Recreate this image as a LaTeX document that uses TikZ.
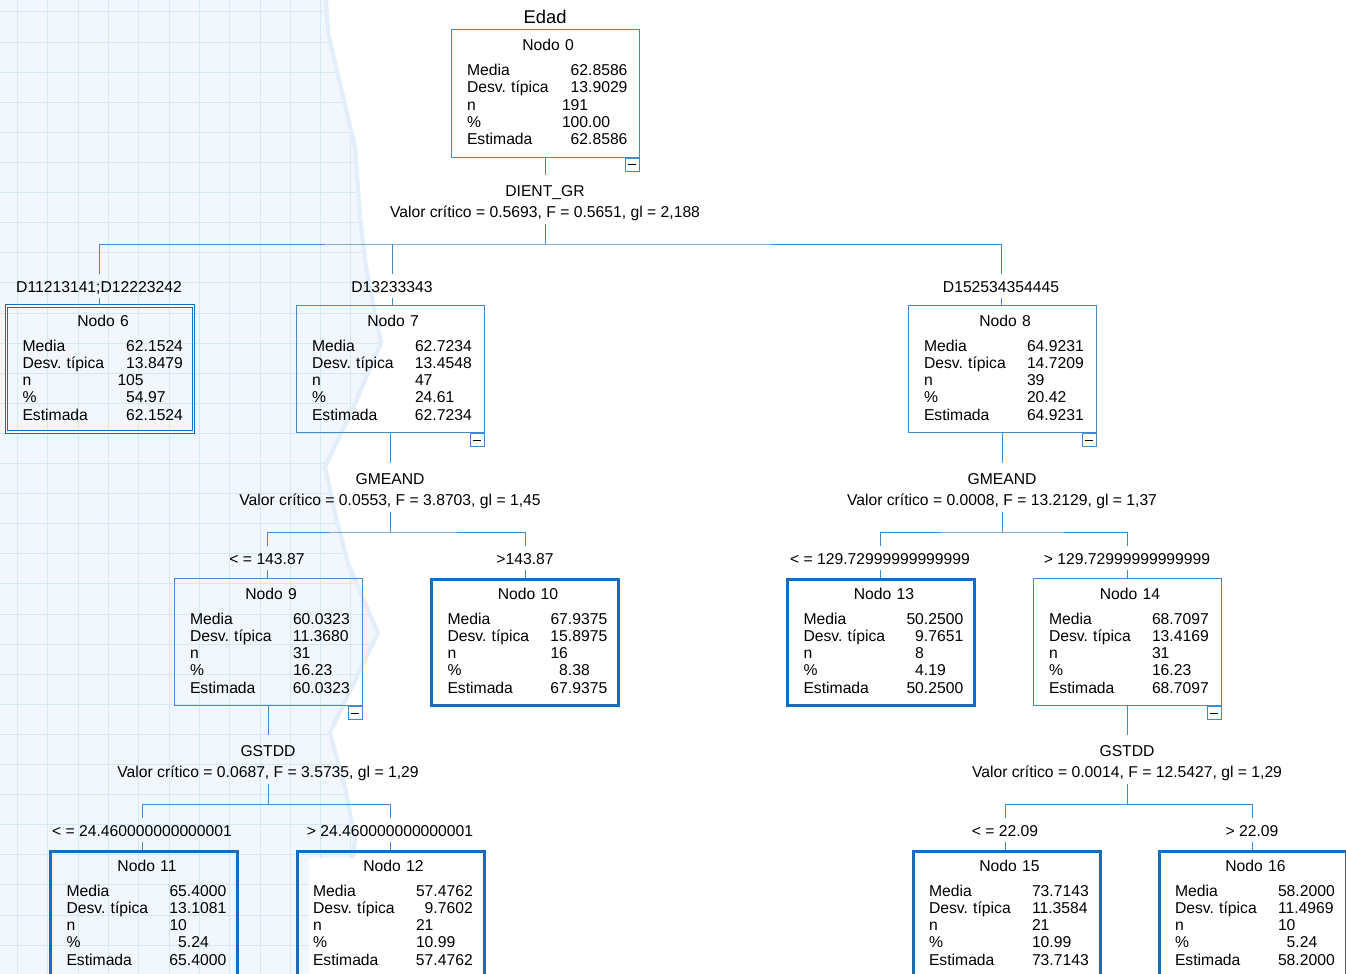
\documentclass[tikz,border=0pt]{standalone}
\usepackage{fontspec}
\setmainfont{Liberation Sans}
\usepackage{tikz}
\usetikzlibrary{calc}
\definecolor{treeblue}{RGB}{66,138,204}
\definecolor{termblue}{RGB}{22,108,190}
\definecolor{gridfill}{RGB}{241,247,252}
\definecolor{gridline}{RGB}{214,231,246}
\definecolor{gridedge}{RGB}{226,238,249}
\setlength{\parindent}{0pt}
\frenchspacing
\newcommand{\z}{\hphantom{0}}
% contents of a tree node: title, label column, five statistics
\newcommand{\stats}[7]{%
  \centerline{\hspace{6pt}#1}\par\vspace{7.7pt}%
  \makebox[#2][l]{Media}#3\par
  \makebox[#2][l]{Desv.\ típica}#4\par
  \makebox[#2][l]{n}#5\par
  \makebox[#2][l]{\%}#6\par
  \makebox[#2][l]{Estimada}#7\rule[-3pt]{0pt}{0pt}}

\begin{document}
\begin{tikzpicture}[x=1pt,y=-1pt,font=\fontsize{15.7pt}{17.25pt}\selectfont,
  box/.style={draw=treeblue,line width=1pt,minimum width=188pt,minimum height=127pt,
    inner xsep=16pt,inner ysep=0pt,text width=156pt,align=left},
  term/.style={box,draw=termblue,line width=3pt,minimum width=187pt,minimum height=126pt,text width=155pt},
  collapse/.style={draw=treeblue,line width=1pt,minimum width=14pt,minimum height=13pt,inner sep=0pt,
    anchor=north east,path picture={\draw[black,line width=1pt]
      ([xshift=3pt]path picture bounding box.west) -- ([xshift=-3pt]path picture bounding box.east);}},
  split/.style={inner sep=3pt,anchor=base,text height=18.5pt},
  stat/.style={inner sep=3pt,anchor=base},
  branch/.style={inner sep=3pt,anchor=base,text height=15pt,text depth=2pt},
  conn/.style={draw=treeblue,line width=1pt}]
  \useasboundingbox (0,0) rectangle (1346,974);

  % Grid paper watermark on the left
  \begin{scope}
    \clip (0,0) -- (328,0) -- (330,33) -- (357,147) -- (362,217) -- (368,267) -- (383,343)
      -- (353,413) -- (327,467) -- (337,513) -- (350,563) -- (380,633) -- (332,733)
      -- (347,787) -- (357,840) -- (350,900) -- (340,974) -- (0,974) -- cycle;
    \fill[gridfill] (0,0) rectangle (400,974);
    \foreach \gx in {0,...,13} \draw[gridline] ({17.3+30.3*\gx},0) -- ++(0,974);
    \foreach \gy in {0,...,32} \draw[gridline] (0,{11.7+30.1*\gy}) -- ++(400,0);
    \draw[gridedge,line width=8pt] (328,0) -- (330,33) -- (357,147) -- (362,217) -- (368,267) -- (383,343)
      -- (353,413) -- (327,467) -- (337,513) -- (350,563) -- (380,633) -- (332,733)
      -- (347,787) -- (357,840) -- (350,900) -- (340,974);
  \end{scope}
  \fill[white] (309,858) rectangle (481,974);

  % Root
  \node[anchor=base,font=\fontsize{18.4pt}{20pt}\selectfont] (edad) at (545,23.5) {Edad};
  \node[box] (n0) at (545,93.5) {\stats{Nodo 0}{95pt}{\z62.8586}{\z13.9029}{191}{100.00}{\z62.8586}};
  \node[collapse] (m0) at (n0.south east) {};
  \node[split] (v0) at (545,196.6) {DIENT\_GR};
  \node[stat] (c0) at (545,217.6) {Valor crítico = 0.5693, F = 0.5651, gl = 2,188};
  \coordinate (b0) at (545,244);
  \draw[conn] (n0) -- (v0);
  \draw[conn] (c0) -- (b0);

  % First split
  \node[branch] (k6) at (99,292.6) {D11213141;D12223242};
  \node[branch] (k7) at (392,292.6) {D13233343};
  \node[branch] (k8) at (1001,292.6) {D152534354445};
  \draw[conn] (k6.north) |- (b0) -| (k8.north);
  \draw[conn] (k7.north) -- (k7.north |- b0);

  \node[term,double=white,double distance=1.2pt,line width=1.3pt] (n6) at (100,369)
    {\stats{Nodo 6}{95pt}{\z62.1524}{\z13.8479}{105}{\z54.97}{\z62.1524}};
  \node[box] (n7) at (390,369) {\stats{Nodo 7}{103pt}{62.7234}{13.4548}{47}{24.61}{62.7234}};
  \node[collapse] (m7) at (n7.south east) {};
  \node[box] (n8) at (1002,369) {\stats{Nodo 8}{103pt}{64.9231}{14.7209}{39}{20.42}{64.9231}};
  \node[collapse] (m8) at (n8.south east) {};
  \draw[conn] (k6.south) -- (k6.south |- n6.north);
  \draw[conn] (k7.south) -- (k7.south |- n7.north);
  \draw[conn] (k8.south) -- (k8.south |- n8.north);

  % Split of Nodo 7
  \node[split] (v7) at (390,484.6) {GMEAND};
  \node[stat] (c7) at (390,505.6) {Valor crítico = 0.0553, F = 3.8703, gl = 1,45};
  \coordinate (b7) at (390,532);
  \draw[conn] (n7) -- (v7);
  \draw[conn] (c7) -- (b7);
  \node[branch] (k9) at (267,564.6) {< = 143.87};
  \node[branch] (k10) at (525,564.6) {>143.87};
  \draw[conn] (k9.north) |- (b7) -| (k10.north);
  \node[box] (n9) at (268,642) {\stats{Nodo 9}{103pt}{60.0323}{11.3680}{31}{16.23}{60.0323}};
  \node[collapse] (m9) at (n9.south east) {};
  \node[term] (n10) at (525,642) {\stats{Nodo 10}{103pt}{67.9375}{15.8975}{16}{\z8.38}{67.9375}};
  \draw[conn] (k9.south) -- (k9.south |- n9.north);
  \draw[conn] (k10.south) -- (k10.south |- n10.north);

  % Split of Nodo 8
  \node[split] (v8) at (1002,484.6) {GMEAND};
  \node[stat] (c8) at (1002,505.6) {Valor crítico = 0.0008, F = 13.2129, gl = 1,37};
  \coordinate (b8) at (1002,532);
  \draw[conn] (n8) -- (v8);
  \draw[conn] (c8) -- (b8);
  \node[branch] (k13) at (880,564.6) {< = 129.72999999999999};
  \node[branch] (k14) at (1127,564.6) {> 129.72999999999999};
  \draw[conn] (k13.north) |- (b8) -| (k14.north);
  \node[term] (n13) at (881,642) {\stats{Nodo 13}{103pt}{50.2500}{\z9.7651}{\z8}{\z4.19}{50.2500}};
  \node[box] (n14) at (1127,642) {\stats{Nodo 14}{103pt}{68.7097}{13.4169}{31}{16.23}{68.7097}};
  \node[collapse] (m14) at (n14.south east) {};
  \draw[conn] (k13.south) -- (k13.south |- n13.north);
  \draw[conn] (k14.south) -- (k14.south |- n14.north);

  % Split of Nodo 9
  \node[split] (v9) at (268,756.6) {GSTDD};
  \node[stat] (c9) at (268,777.6) {Valor crítico = 0.0687, F = 3.5735, gl = 1,29};
  \coordinate (b9) at (268,804);
  \draw[conn] (n9) -- (v9);
  \draw[conn] (c9) -- (b9);
  \node[branch] (k11) at (142,836.6) {< = 24.460000000000001};
  \node[branch] (k12) at (390,836.6) {> 24.460000000000001};
  \draw[conn] (k11.north) |- (b9) -| (k12.north);
  \node[term] (n11) at (144,914) {\stats{Nodo 11}{103pt}{65.4000}{13.1081}{10}{\z5.24}{65.4000}};
  \node[term] (n12) at (390.5,914) {\stats{Nodo 12}{103pt}{57.4762}{\z9.7602}{21}{10.99}{57.4762}};
  \draw[conn] (k11.south) -- (k11.south |- n11.north);
  \draw[conn] (k12.south) -- (k12.south |- n12.north);

  % Split of Nodo 14
  \node[split] (v14) at (1127,756.6) {GSTDD};
  \node[stat] (c14) at (1127,777.6) {Valor crítico = 0.0014, F = 12.5427, gl = 1,29};
  \coordinate (b14) at (1127,804);
  \draw[conn] (n14) -- (v14);
  \draw[conn] (c14) -- (b14);
  \node[branch] (k15) at (1005,836.6) {< = 22.09};
  \node[branch] (k16) at (1252,836.6) {> 22.09};
  \draw[conn] (k15.north) |- (b14) -| (k16.north);
  \node[term] (n15) at (1006.5,914) {\stats{Nodo 15}{103pt}{73.7143}{11.3584}{21}{10.99}{73.7143}};
  \node[term] (n16) at (1252.5,914) {\stats{Nodo 16}{103pt}{58.2000}{11.4969}{10}{\z5.24}{58.2000}};
  \draw[conn] (k15.south) -- (k15.south |- n15.north);
  \draw[conn] (k16.south) -- (k16.south |- n16.north);
\end{tikzpicture}
\end{document}
